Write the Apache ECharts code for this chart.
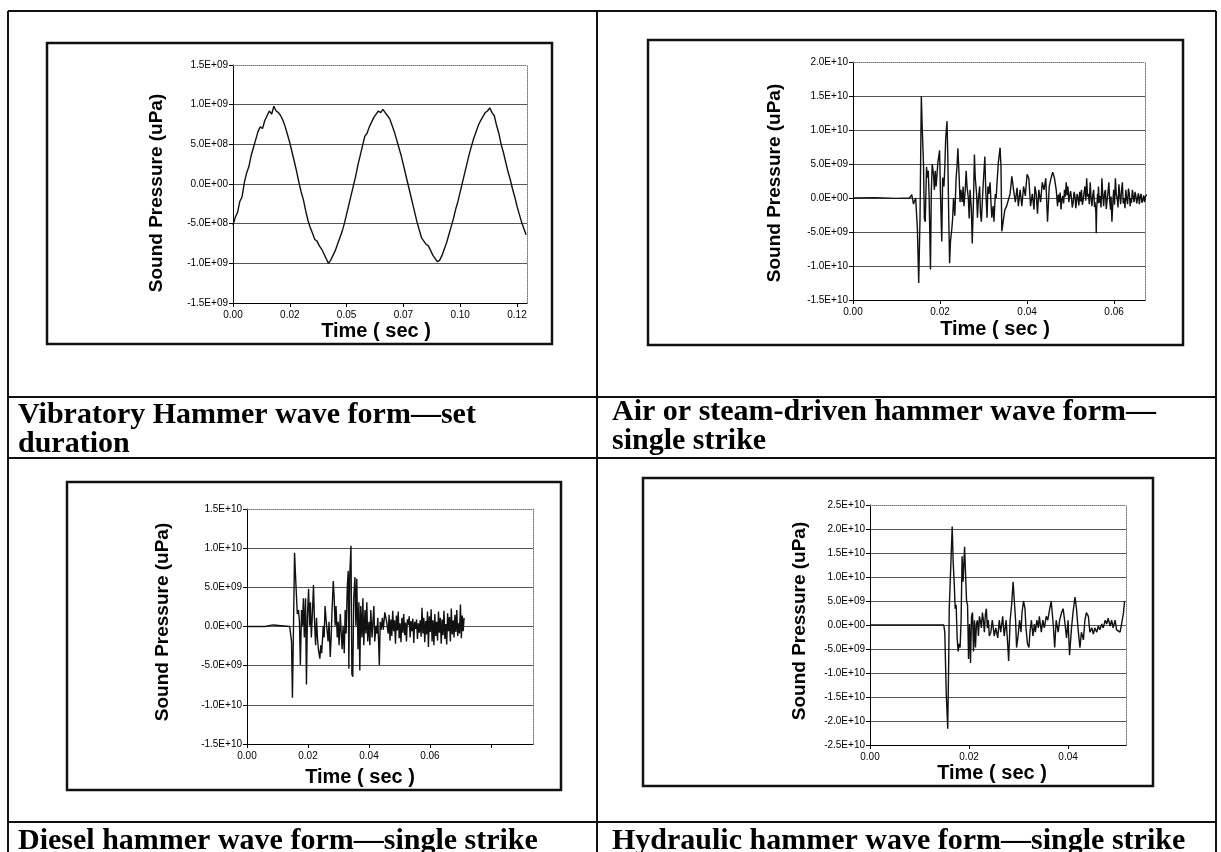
<!DOCTYPE html>
<html>
<head>
<meta charset="utf-8">
<script src="https://cdn.jsdelivr.net/npm/echarts@6/dist/echarts.min.js"></script>
<style>
  html, body { margin: 0; padding: 0; background: #fff; }
  #main { width: 1221px; height: 852px; }
</style>
</head>
<body>
<div id="main"></div>
<script>
// ---- data (time in ms unless noted, pressure in 1E+09 uPa) ----

// vibratory hammer, one reading per ms from t = 0
const vibStepMs = 1;
const vibValues = [
  -0.52, -0.42, -0.36, -0.22, -0.16, 0.02, 0.14, 0.22, 0.36, 0.46,
  0.56, 0.66, 0.72, 0.70, 0.80, 0.86, 0.92, 0.88, 0.98, 0.92,
  0.90, 0.86, 0.80, 0.72, 0.62, 0.52, 0.40, 0.28, 0.16, 0.02,
  -0.10, -0.20, -0.34, -0.46, -0.55, -0.62, -0.70, -0.72, -0.78, -0.82,
  -0.88, -0.94, -1.00, -0.96, -0.90, -0.84, -0.76, -0.68, -0.60, -0.50,
  -0.38, -0.26, -0.14, -0.02, 0.10, 0.24, 0.36, 0.48, 0.60, 0.64,
  0.72, 0.78, 0.84, 0.88, 0.92, 0.90, 0.94, 0.90, 0.86, 0.82,
  0.74, 0.66, 0.56, 0.46, 0.36, 0.24, 0.12, 0.00, -0.12, -0.24,
  -0.36, -0.48, -0.58, -0.68, -0.72, -0.76, -0.78, -0.84, -0.90, -0.94,
  -0.98, -0.96, -0.90, -0.82, -0.74, -0.64, -0.54, -0.44, -0.32, -0.22,
  -0.10, 0.02, 0.14, 0.26, 0.38, 0.48, 0.58, 0.66, 0.74, 0.80,
  0.85, 0.90, 0.92, 0.96, 0.90, 0.86, 0.74, 0.64, 0.50, 0.40,
  0.28, 0.16, 0.06, -0.06, -0.16, -0.28, -0.38, -0.48, -0.56, -0.64
];
const vibXTicks = [0, 0.025, 0.05, 0.075, 0.1, 0.125];
const vibXLabels = ['0.00', '0.02', '0.05', '0.07', '0.10', '0.12'];

// air / steam hammer  [ms, 1E+09 uPa]
const airPoints = [
  [0,0],[5,0.05],[10,-0.05],[13.0,0],[13.5,0.5],[13.9,-0.9],[14.4,0],[14.8,-4.6],[15.1,-12.5],[15.4,-3],
  [15.7,15],[15.9,10.5],[16.2,5],[16.4,-3],[16.6,-3.5],[16.9,4.6],[17.1,3],[17.3,4],[17.5,0],[17.8,-10.5],
  [18.0,1],[18.2,5],[18.5,3.5],[18.7,1.2],[18.9,4],[19.1,1.7],[19.5,5.2],[19.9,7],[20.1,0.6],[20.4,-6.4],
  [20.6,3],[20.9,1.7],[21.1,4.6],[21.3,8.7],[21.6,11.3],[21.8,5.8],[22.0,-3],[22.2,-9.6],[22.4,-6.4],[22.7,-4.6],
  [22.9,-3],[23.1,0],[23.4,-2.6],[23.7,3],[23.9,4.6],[24.1,7.3],[24.4,3],[24.6,-0.6],[24.8,1.2],[25.1,-0.6],
  [25.3,1.7],[25.5,-1.2],[25.8,1.2],[26.0,4],[26.2,1.7],[26.5,0],[26.7,-3],[26.9,1.2],[27.2,-1.7],[27.4,-6.7],
  [27.7,0],[27.9,6.4],[28.1,2.9],[28.4,0.6],[28.6,-2.9],[28.8,-0.3],[29.1,1.7],[29.3,-2.3],[29.5,-3.5],[29.8,0.6],
  [30.0,2.9],[30.3,6.1],[30.5,1.2],[30.8,-2.9],[31.0,1.7],[31.2,0.6],[31.5,2.3],[31.7,-0.6],[31.9,-2.9],[32.2,-1.2],
  [32.4,-3.5],[32.7,0.6],[32.9,0],[33.1,2.3],[33.4,5.2],[33.8,7.4],[34.0,4.7],[34.2,-4.9],[34.5,-3.5],[34.9,-1.7],
  [35.3,-1.2],[35.7,-0.3],[36.1,0.6],[36.5,3.2],[36.9,1.2],[37.3,-0.6],[37.7,1.5],[38.0,-1.2],[38.4,1.2],[38.8,-1.2],
  [39.2,1.7],[39.6,0.3],[40.0,3.5],[40.4,2.9],[40.8,-1.2],[41.2,0.6],[41.6,-1.7],[41.8,1.7],[42.1,0.6],[42.4,-2.3],
  [42.7,1.2],[43.1,-0.6],[43.5,2.3],[43.9,1.2],[44.3,2.9],[44.7,-3.5],[45.1,1.7],[45.5,2.9],[45.9,3.8],[46.3,2.9],
  [46.7,1.2],[46.9,-0.4],[47.0,-1.2],[47.2,0.5],[47.4,-0.6],[47.6,0.8],[47.8,-1.7],[48.0,-0.2],[48.2,0.3],[48.4,-0.8],
  [48.6,1.2],[48.8,0.2],[49.0,2.3],[49.2,0.4],[49.4,1.7],[49.6,-0.6],[49.8,0.3],[50.0,1.0],[50.2,0],[50.4,-1.4],
  [50.6,-0.6],[50.8,0.9],[51.0,0.3],[51.2,-1.5],[51.3,-0.9],[51.5,0.6],[51.7,0],[51.9,-1.1],[52.1,0.9],[52.3,-0.5],
  [52.5,1.2],[52.7,-1.0],[52.9,-0.3],[53.1,0.8],[53.3,1.7],[53.5,-0.4],[53.7,2.9],[53.9,0.2],[54.1,0.6],[54.3,-0.9],
  [54.5,2.3],[54.7,0.1],[54.9,-1.2],[55.1,0.4],[55.3,1.2],[55.5,-1.3],[55.6,-0.6],[55.8,-2.0],[55.9,-5.2],[56.0,-1.5],
  [56.2,0.6],[56.3,-0.8],[56.4,1.7],[56.6,-0.7],[56.8,0.3],[57.0,-1.4],[57.2,2.9],[57.4,0.4],[57.6,-1.2],[57.8,0.7],
  [58.0,1.2],[58.2,-1.6],[58.4,-0.3],[58.6,0.9],[58.8,2.3],[59.0,-0.5],[59.2,-1.7],[59.3,0.2],[59.5,-3.5],[59.7,-0.8],
  [59.9,1.2],[60.1,-1.0],[60.3,2.9],[60.5,0.5],[60.7,0],[60.9,-1.4],[61.1,2.0],[61.3,0.4],[61.5,-0.9],[61.7,1.1],
  [61.9,2.3],[62.1,-0.8],[62.3,0],[62.5,-1.5],[62.7,1.2],[62.9,-0.2],[63.1,-0.9],[63.3,1.4],[63.5,0.6],[63.7,-1.2],
  [63.8,0],[64.0,-0.7],[64.2,1.2],[64.4,0.2],[64.6,-0.6],[64.8,0.9],[65.0,0.3],[65.2,-0.8],[65.4,0],[65.6,0.7],
  [65.8,-0.9],[66.0,0.2],[66.2,0.6],[66.4,-0.7],[66.6,-0.3],[66.8,0.4],[67.0,-0.6],[67.2,0.2],[67.5,0.5]
];

// diesel hammer  [ms, 1E+09 uPa]
const dieselPoints = [
  [0,0],[6,0],[6.5,0.2],[8.5,0.2],[9,0],[14.0,0],[14.6,-1.9],[14.9,-9.1],[15.2,-1.4],[15.6,9.4],
  [15.9,6.6],[16.2,6.8],[16.5,1.6],[16.9,2.1],[17.2,0.6],[17.5,-4.9],[17.9,2.1],[18.2,0.1],[18.5,3.6],[18.8,-1.4],
  [19.2,3.6],[19.5,-7.4],[19.8,1.1],[20.2,4.8],[20.5,0.1],[20.8,3.1],[21.1,-1.4],[21.5,2.1],[21.8,5.3],[22.1,1.1],
  [22.5,-2.4],[22.8,1.1],[23.1,-1.4],[23.4,-2.9],[23.9,-4.1],[24.2,-2.4],[24.5,-3.4],[25.0,0.1],[25.3,-1.4],[25.6,2.6],
  [26.0,0.6],[26.3,0.6],[26.6,-1.9],[26.9,0.6],[27.3,-3.9],[27.6,-1.4],[27.9,2.1],[28.3,5.8],[28.6,3.6],[28.9,0.1],
  [29.2,2.6],[29.6,-1.4],[29.9,0.6],[30.2,-2.4],[30.6,1.6],[30.9,-0.9],[31.2,-2.9],[31.5,0.1],[31.9,-3.4],[32.2,2.1],
  [32.5,-0.9],[32.9,5.1],[33.2,7.1],[33.4,-5.4],[33.7,6.6],[34.1,10.3],[34.4,-6.1],[34.7,-6.4],[35.0,3.6],[35.4,6.3],
  [35.7,0.1],[36.0,6.1],[36.4,-2.9],[36.7,3.1],[37.0,-5.6],[37.3,2.6],[37.7,-1.4],[38.0,3.6],[38.3,-2.4],[38.7,2.1],
  [39.0,-0.9],[39.3,3.1],[39.6,-1.9],[40.0,0.6],[40.3,-2.4],[40.6,2.1],[41.0,-1.4],[41.3,0.6],[41.6,2.6],[41.9,-1.9],
  [42.3,0.1],[42.6,-0.9],[42.9,1.1],[43.4,-4.9],[43.7,0.6],[44.0,-0.4],[44.4,1.1],[44.7,-0.4],[45.2,1.8],[45.8,0.6],
  [46.3,-0.9],[46.6,1.5],[46.9,-1.8],[47.2,0.9],[47.5,-1.2],[47.8,2.0],[48.1,-0.6],[48.4,0.8],[48.7,-2.2],[49.0,1.4],
  [49.3,-0.5],[49.6,1.9],[49.9,-1.5],[50.2,0.4],[50.5,-2.0],[50.8,1.1],[51.1,-0.8],[51.4,1.6],[51.7,-1.1],[52.0,0.5],
  [52.3,-1.9],[52.6,0.9],[52.9,0.2],[53.2,1.3],[53.5,-1.4],[53.8,0.7],[54.1,-0.6],[54.4,1.0],[54.7,-2.1],[55.0,0.6],
  [55.3,-0.3],[55.6,0.9],[55.9,-1.6],[56.2,0.4],[56.5,-0.8],[56.8,0.8],[57.1,-1.3],[57.4,2.4],[57.7,-0.9],[58.0,1.1],
  [58.3,-2.0],[58.6,0.7],[58.9,-1.0],[59.2,1.9],[59.5,-2.6],[59.8,1.3],[60.1,-0.7],[60.4,2.2],[60.7,-1.9],[61.0,0.8],
  [61.3,-2.4],[61.6,1.6],[61.9,-1.2],[62.2,0.6],[62.5,-1.8],[62.8,1.9],[63.1,-0.8],[63.4,1.1],[63.7,-2.2],[64.0,0.9],
  [64.3,-1.1],[64.6,2.0],[64.9,-1.6],[65.2,0.3],[65.5,-2.3],[65.8,1.7],[66.1,-0.6],[66.4,1.2],[66.7,-1.9],[67.0,2.3],
  [67.3,-1.0],[67.6,0.8],[67.9,-1.4],[68.2,1.5],[68.5,-0.7],[68.8,2.1],[69.1,-1.2],[69.4,0.4],[69.7,-0.9],[70.0,2.8],
  [70.3,-1.5],[70.6,1.4],[70.9,-0.6],[71.2,1.1]
];

// hydraulic hammer  [ms, 1E+09 uPa]
const hydraulicPoints = [
  [0,0],[10,0],[14.9,0],[15.1,-1.5],[15.4,-14.4],[15.7,-21.6],[15.9,-7.1],[16.0,3.4],[16.2,3.8],[16.4,14.7],
  [16.6,20.5],[16.8,13.1],[17.0,9.0],[17.2,3.4],[17.4,4.2],[17.6,-2.7],[17.8,-5.5],[18.0,-3.9],[18.2,-4.7],[18.4,1.0],
  [18.6,14.3],[18.8,9.0],[19.1,16.3],[19.3,16.7],[19.5,5.0],[19.7,4.2],[19.9,-7.1],[20.1,0.2],[20.3,-7.9],[20.5,1.8],
  [20.7,2.6],[20.9,-5.5],[21.1,1.0],[21.3,-4.7],[21.5,0.2],[21.7,1.0],[21.9,-2.3],[22.1,1.8],[22.3,0.8],[22.5,-0.6],
  [22.7,2.6],[22.9,1.0],[23.1,-1.5],[23.3,2.2],[23.5,3.4],[23.7,-0.6],[23.9,1.0],[24.1,-2.3],[24.4,-1.5],[24.7,1.0],
  [25.1,-2.3],[25.4,-0.6],[25.8,-2.7],[26.1,1.0],[26.4,-1.5],[26.8,1.8],[27.1,-2.3],[27.5,1.0],[27.8,-3.9],[28.0,-7.5],
  [28.3,1.0],[28.6,4.2],[28.9,9.0],[29.1,5.8],[29.4,1.0],[29.6,-4.7],[29.9,-2.3],[30.2,1.0],[30.5,-1.5],[30.7,2.6],
  [31.0,5.0],[31.3,3.4],[31.5,-0.6],[31.8,-3.9],[32.1,-4.7],[32.3,-1.5],[32.6,1.0],[32.9,-2.3],[33.2,0.2],[33.4,-1.5],
  [33.7,1.0],[34.0,-0.6],[34.2,1.8],[34.6,-1.5],[34.9,1.0],[35.2,-0.6],[35.6,1.8],[35.9,1.0],[36.3,3.4],[36.6,5.0],
  [37.0,0.2],[37.3,-4.7],[37.6,1.0],[38.0,-1.5],[38.3,1.0],[38.7,2.6],[39.0,3.4],[39.3,1.0],[39.7,-2.7],[40.0,1.0],
  [40.3,-6.3],[40.7,-0.6],[41.0,2.6],[41.4,5.8],[41.7,3.4],[42.0,-0.6],[42.4,-4.7],[42.7,-1.5],[43.1,-3.1],[43.4,1.0],
  [43.7,2.6],[44.1,1.8],[44.4,-1.5],[44.8,-0.6],[45.1,-1.9],[45.4,-0.6],[45.8,-1.5],[46.1,-0.2],[46.4,-1.0],[46.8,0.2],
  [47.1,-0.6],[47.5,1.0],[47.8,0.2],[48.1,1.4],[48.5,-0.2],[48.8,1.0],[49.1,-0.6],[49.5,1.0],[49.8,-1.0],[50.2,-0.6],
  [50.5,-1.5],[50.8,0.2],[51.2,2.6],[51.4,5.0]
];

const airXTicks = [0, 0.02, 0.04, 0.06];
const dieselXTicks = [0, 0.02, 0.04, 0.06, 0.08];
const hydraulicXTicks = [0, 0.02, 0.04];
const dieselXLabels = ['0.00', '0.02', '0.04', '0.06', ''];

const captions = [
  ['Vibratory Hammer wave form\u2014set', 'duration'],
  ['Air or steam-driven hammer wave form\u2014', 'single strike'],
  ['Diesel hammer wave form\u2014single strike'],
  ['Hydraulic hammer wave form\u2014single strike']
];
const yTitle = 'Sound Pressure (uPa)';
const xTitle = 'Time ( sec )';

// ---- helpers ----
const SANS = '"Liberation Sans", Arial, sans-serif';
const SERIF = '"Liberation Serif", "Times New Roman", serif';

function excelSci(v) {
  if (Math.abs(v) < 1e-6) return '0.0E+00';
  const e = Math.floor(Math.log10(Math.abs(v)) + 1e-9);
  const m = v / Math.pow(10, e);
  return m.toFixed(1) + 'E' + (e < 0 ? '-' : '+') + String(Math.abs(e)).padStart(2, '0');
}
const toSec = pts => pts.map(p => [p[0] / 1000, p[1] * 1e9]);
const vibData = vibValues.map((v, i) => [i * vibStepMs / 1000, v * 1e9]);

// layout of each panel
const panels = [
  { grid: {left: 233, top: 65, width: 294, height: 238}, box: [47, 43, 505, 301],
    yT: [157, 193], xT: [376, 331], xMax: 0.1294, xTicks: vibXTicks, xLabels: vibXLabels,
    yMin: -1.5e9, yMax: 1.5e9, yStep: 5e8, data: vibData },
  { grid: {left: 853, top: 62, width: 292, height: 238}, box: [648, 40, 535, 305],
    yT: [775, 183], xT: [995, 329], xMax: 0.0671, xTicks: airXTicks, xLabels: null,
    yMin: -1.5e10, yMax: 2e10, yStep: 5e9, data: toSec(airPoints) },
  { grid: {left: 247, top: 509, width: 286, height: 235}, box: [67, 482, 494, 308],
    yT: [163, 622], xT: [360, 777], xMax: 0.0938, xTicks: dieselXTicks, xLabels: dieselXLabels,
    yMin: -1.5e10, yMax: 1.5e10, yStep: 5e9, data: toSec(dieselPoints) },
  { grid: {left: 870, top: 505, width: 256, height: 240}, box: [643, 478, 510, 308],
    yT: [800, 621], xT: [992, 773], xMax: 0.0517, xTicks: hydraulicXTicks, xLabels: null,
    yMin: -2.5e10, yMax: 2.5e10, yStep: 5e9, data: toSec(hydraulicPoints) }
];

const grids = [], xAxes = [], yAxes = [], series = [], graphics = [];

panels.forEach((p, i) => {
  grids.push(Object.assign({ containLabel: false }, p.grid));
  // bottom axis
  xAxes.push({
    gridIndex: i, type: 'value', min: 0, max: p.xMax,
    axisLine: { show: true, onZero: false, lineStyle: { color: '#000', width: 1 } },
    axisTick: { show: true, length: 4, customValues: p.xTicks, lineStyle: { color: '#000' } },
    axisLabel: {
      customValues: p.xTicks, margin: 7, fontSize: 10, color: '#000', fontFamily: SANS,
      formatter: v => {
        const k = p.xTicks.findIndex(t => Math.abs(t - v) < 1e-9);
        if (p.xLabels) return k >= 0 ? p.xLabels[k] : '';
        return v.toFixed(2);
      }
    },
    splitLine: { show: false }
  });
  // dotted plot-area border on top
  xAxes.push({
    gridIndex: i, type: 'value', min: 0, max: p.xMax, position: 'top',
    axisLine: { show: true, onZero: false, lineStyle: { color: '#777', type: 'dotted', width: 1 } },
    axisTick: { show: false }, axisLabel: { show: false }, splitLine: { show: false }
  });
  yAxes.push({
    gridIndex: i, type: 'value', min: p.yMin, max: p.yMax, interval: p.yStep,
    axisLine: { show: true, onZero: false, lineStyle: { color: '#000', width: 1 } },
    axisTick: { show: true, length: 4, lineStyle: { color: '#000' } },
    axisLabel: { margin: 5, fontSize: 10, color: '#000', fontFamily: SANS, formatter: excelSci },
    splitLine: { show: true, showMinLine: false, showMaxLine: false, lineStyle: { color: '#555', width: 1 } }
  });
  yAxes.push({
    gridIndex: i, type: 'value', min: p.yMin, max: p.yMax, interval: p.yStep, position: 'right',
    axisLine: { show: true, onZero: false, lineStyle: { color: '#777', type: 'dotted', width: 1 } },
    axisTick: { show: false }, axisLabel: { show: false }, splitLine: { show: false }
  });
  series.push({
    type: 'line', xAxisIndex: 2 * i, yAxisIndex: 2 * i, data: p.data,
    showSymbol: false, symbol: 'none', silent: true,
    lineStyle: { color: '#111', width: 1.4 }
  });
  // chart frame
  graphics.push({ type: 'rect', shape: { x: p.box[0], y: p.box[1], width: p.box[2], height: p.box[3] },
    style: { fill: 'none', stroke: '#111', lineWidth: 2.5 } });
  graphics.push({ type: 'text', x: p.yT[0], y: p.yT[1], rotation: Math.PI / 2,
    style: { text: yTitle, font: 'bold 19px ' + SANS, fill: '#000', align: 'center', verticalAlign: 'middle' } });
  graphics.push({ type: 'text', x: p.xT[0], y: p.xT[1],
    style: { text: xTitle, font: 'bold 20px ' + SANS, fill: '#000', align: 'center', verticalAlign: 'middle' } });
});

// table rules
const tableLines = [
  [8, 11, 1216, 11], [8, 11, 8, 852], [597, 11, 597, 852], [1216, 11, 1216, 852],
  [8, 397, 1216, 397], [8, 458, 1216, 458], [8, 822, 1216, 822]
];
tableLines.forEach(l => graphics.push({ type: 'line', shape: { x1: l[0], y1: l[1], x2: l[2], y2: l[3] },
  style: { stroke: '#111', lineWidth: 2 } }));

// captions (first-line middle y, then line step)
const capPos = [[18, 415], [612, 412], [18, 841], [612, 841]];
captions.forEach((lines, i) => {
  lines.forEach((txt, j) => graphics.push({ type: 'text', x: capPos[i][0], y: capPos[i][1] + j * 29,
    style: { text: txt, font: 'bold 30px ' + SERIF, fill: '#000', align: 'left', verticalAlign: 'middle' } }));
});

const chart = echarts.init(document.getElementById('main'), null, { renderer: 'canvas' });
chart.setOption({
  backgroundColor: '#fff',
  animation: false,
  grid: grids,
  xAxis: xAxes,
  yAxis: yAxes,
  series: series,
  graphic: graphics
});
</script>
</body>
</html>
